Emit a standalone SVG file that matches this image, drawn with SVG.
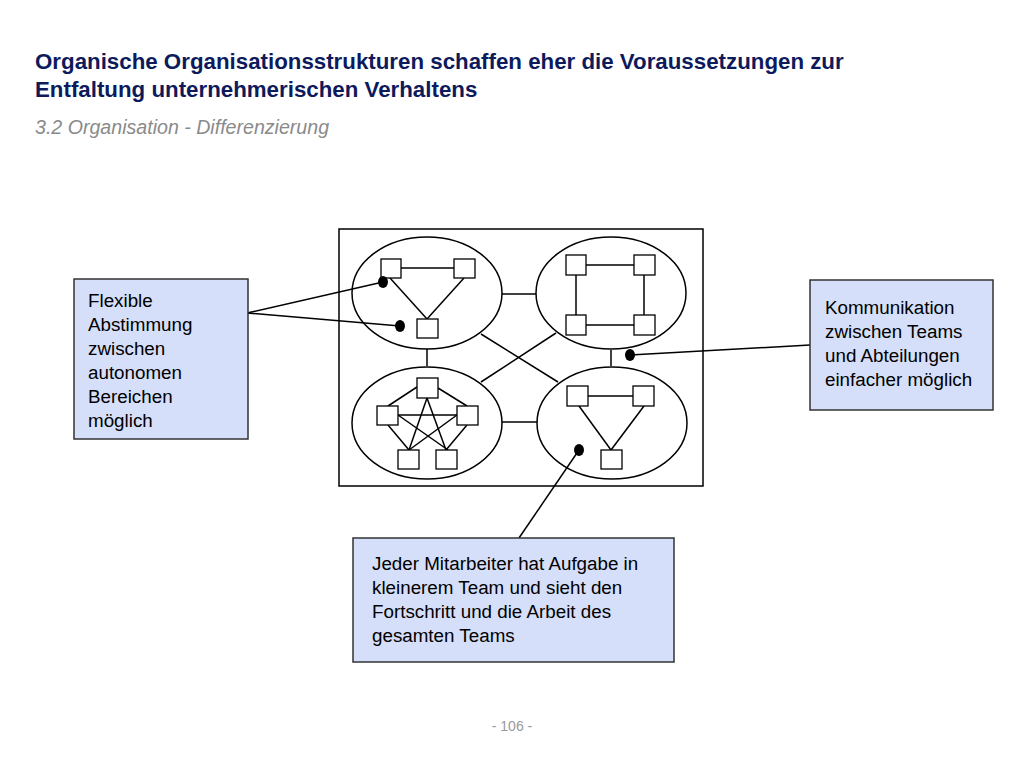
<svg xmlns="http://www.w3.org/2000/svg" width="1024" height="768" viewBox="0 0 1024 768">
<style>
.t{font-family:"Liberation Sans",Arial,sans-serif}
.box{fill:#D6DFFA;stroke:#333;stroke-width:1.5}
.ln{stroke:#000;stroke-width:1.5;fill:none}
.el{fill:#fff;stroke:#000;stroke-width:1.5}
.sq{fill:#fff;stroke:#000;stroke-width:1.3}
.bt{font-size:18.8px;fill:#000}
</style>
<rect width="1024" height="768" fill="#fff"/>
<text class="t" x="35" y="69" font-size="22.3" font-weight="bold" fill="#0D1A5C">Organische Organisationsstrukturen schaffen eher die Voraussetzungen zur</text>
<text class="t" x="35" y="97" font-size="22.3" font-weight="bold" fill="#0D1A5C">Entfaltung unternehmerischen Verhaltens</text>
<text class="t" x="35" y="134" font-size="19.6" font-style="italic" fill="#8A8A8A">3.2 Organisation - Differenzierung</text>
<g id="frame"><rect x="339" y="229" width="364" height="257" fill="#fff" stroke="#000" stroke-width="1.5"/></g>
<g id="links">
<line class="ln" x1="502" y1="294" x2="536" y2="294"/>
<line class="ln" x1="427" y1="349" x2="427" y2="366"/>
<line class="ln" x1="611" y1="350" x2="611" y2="366"/>
<line class="ln" x1="502" y1="422" x2="537" y2="422"/>
<line class="ln" x1="481" y1="334" x2="558" y2="382"/>
<line class="ln" x1="556" y1="333" x2="481" y2="382"/>
</g>
<g id="team-tl">
<ellipse class="el" cx="427" cy="293" rx="75" ry="56"/>
<line class="ln" x1="401" y1="268" x2="454" y2="268"/>
<line class="ln" x1="390" y1="278" x2="427" y2="319"/>
<line class="ln" x1="464" y1="278" x2="427" y2="319"/>
<rect class="sq" x="381" y="259" width="20" height="19"/>
<rect class="sq" x="454" y="259" width="21" height="19"/>
<rect class="sq" x="417" y="319" width="21" height="19"/>
</g>
<g id="team-tr">
<ellipse class="el" cx="611" cy="293" rx="75" ry="56"/>
<line class="ln" x1="586" y1="265" x2="634" y2="265"/>
<line class="ln" x1="586" y1="325" x2="634" y2="325"/>
<line class="ln" x1="576" y1="275" x2="576" y2="315"/>
<line class="ln" x1="644" y1="275" x2="644" y2="315"/>
<rect class="sq" x="566" y="255" width="20" height="20"/>
<rect class="sq" x="634" y="255" width="21" height="20"/>
<rect class="sq" x="566" y="315" width="20" height="20"/>
<rect class="sq" x="634" y="315" width="21" height="20"/>
</g>
<g id="team-bl">
<ellipse class="el" cx="427" cy="423" rx="75" ry="56"/>
<line class="ln" x1="417" y1="387" x2="388" y2="406"/>
<line class="ln" x1="438" y1="388" x2="467" y2="406"/>
<line class="ln" x1="398" y1="415" x2="457" y2="415"/>
<line class="ln" x1="388" y1="425" x2="409" y2="450"/>
<line class="ln" x1="467" y1="425" x2="446" y2="450"/>
<line class="ln" x1="427" y1="398" x2="409" y2="450"/>
<line class="ln" x1="427" y1="398" x2="446" y2="450"/>
<line class="ln" x1="398" y1="415" x2="448" y2="450"/>
<line class="ln" x1="457" y1="415" x2="409" y2="450"/>
<rect class="sq" x="417" y="378" width="21" height="20"/>
<rect class="sq" x="377" y="406" width="21" height="19"/>
<rect class="sq" x="457" y="406" width="21" height="19"/>
<rect class="sq" x="398" y="450" width="21" height="19"/>
<rect class="sq" x="436" y="450" width="21" height="19"/>
</g>
<g id="team-br">
<ellipse class="el" cx="612" cy="423" rx="75" ry="56"/>
<line class="ln" x1="588" y1="396" x2="633" y2="396"/>
<line class="ln" x1="579" y1="406" x2="611" y2="450"/>
<line class="ln" x1="644" y1="406" x2="611" y2="450"/>
<rect class="sq" x="567" y="386" width="21" height="20"/>
<rect class="sq" x="633" y="386" width="21" height="20"/>
<rect class="sq" x="601" y="450" width="21" height="19"/>
</g>
<g id="connectors">
<line class="ln" x1="247" y1="313" x2="383" y2="282"/>
<line class="ln" x1="247" y1="313" x2="400" y2="326"/>
<line class="ln" x1="810" y1="345" x2="630" y2="355"/>
<line class="ln" x1="519" y1="538" x2="579" y2="450"/>
<ellipse cx="383" cy="282" rx="5" ry="6"/>
<ellipse cx="400" cy="326" rx="5" ry="6"/>
<ellipse cx="579" cy="450" rx="5" ry="6"/>
<ellipse cx="630" cy="355" rx="5" ry="6"/>
</g>
<g id="note-left">
<rect class="box" x="74" y="279" width="174" height="160"/>
<text class="t bt" x="88" y="307">Flexible</text>
<text class="t bt" x="88" y="331">Abstimmung</text>
<text class="t bt" x="88" y="355">zwischen</text>
<text class="t bt" x="88" y="379">autonomen</text>
<text class="t bt" x="88" y="403">Bereichen</text>
<text class="t bt" x="88" y="427">möglich</text>
</g>
<g id="note-right">
<rect class="box" x="810" y="280" width="183" height="130"/>
<text class="t bt" x="825" y="314">Kommunikation</text>
<text class="t bt" x="825" y="338">zwischen Teams</text>
<text class="t bt" x="825" y="362">und Abteilungen</text>
<text class="t bt" x="825" y="386">einfacher möglich</text>
</g>
<g id="note-bottom">
<rect class="box" x="353" y="538" width="321" height="124"/>
<text class="t bt" x="372" y="570">Jeder Mitarbeiter hat Aufgabe in</text>
<text class="t bt" x="372" y="594">kleinerem Team und sieht den</text>
<text class="t bt" x="372" y="618">Fortschritt und die Arbeit des</text>
<text class="t bt" x="372" y="642">gesamten Teams</text>
</g>
<text class="t" x="512" y="731" font-size="14" fill="#999" text-anchor="middle">- 106 -</text>
</svg>
